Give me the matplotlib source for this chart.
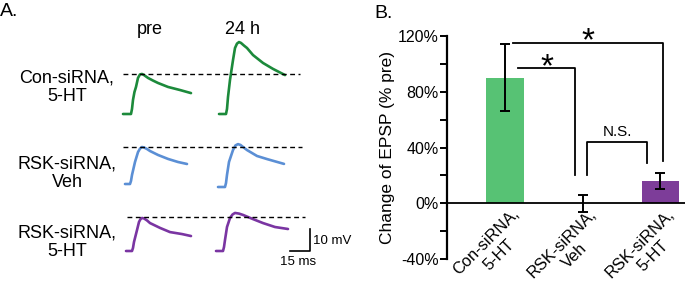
import matplotlib
matplotlib.use("Agg")
import math
import matplotlib.pyplot as plt
from matplotlib.transforms import blended_transform_factory

plt.rcParams['font.family'] = ['Liberation Sans', 'DejaVu Sans']

# ---- panel B data ----
groups = ['Con-siRNA,\n5-HT', 'RSK-siRNA,\nVeh', 'RSK-siRNA,\n5-HT']
change = [90, 0, 16]          # % change of EPSP
err = [24, 6, 6]
bar_colors = ['#57c274', '#57c274', '#7d3d99']
yticks = [-40, 0, 40, 80, 120]
yticklabels = ['-40%', '0%', '40%', '80%', '120%']

# ---- panel A traces (ms, mV above baseline) ----
green_pre_t = [0, 6, 6.75, 7.5, 8.6, 9.75, 11.25, 12.75, 14.25, 15.75, 18.75, 22.5, 26.25, 33.75, 42.75, 51]
green_pre_v = [0, 0, 2.3, 6.4, 10, 12.3, 16.4, 18, 18.2, 17.7, 16.4, 15.2, 14.1, 12.3, 10.9, 9.5]
green_24_t = [0, 5.25, 6, 6.75, 8.25, 10.5, 12, 13.5, 15, 16.5, 18.75, 21, 25.5, 33, 40.5, 49.5]
green_24_v = [0, 0, 2.3, 7.7, 15.5, 24.5, 30, 32, 32.7, 32.3, 31.1, 30, 26.8, 23.2, 20.5, 17.7]
blue_pre_t = [0, 3.75, 4.5, 5.25, 7.5, 9.75, 11.25, 12.75, 14.25, 16.5, 18.75, 24.75, 32.25, 39.75, 46.5]
blue_pre_v = [0, 0, 1.4, 4.1, 10, 14.5, 16.1, 16.8, 16.6, 15.9, 15, 13.2, 11.4, 10, 9.1]
blue_24_t = [0, 5.25, 6, 6.75, 8.25, 11.25, 13.1, 15, 16.9, 18.75, 21.75, 29.25, 36.75, 44.25, 49.5]
blue_24_v = [0, 0, 1.8, 5.5, 11.4, 16.8, 18.9, 19.5, 19.1, 18.2, 16.8, 14.1, 12.7, 11.4, 10.5]
purple_pre_t = [0, 4.5, 5.25, 6, 8.25, 9.75, 10.9, 12, 13.5, 15.75, 18, 25.5, 33, 42, 48.75]
purple_pre_v = [0, 0, 1.4, 4.1, 9.5, 13.2, 14.5, 15, 14.8, 13.9, 12.7, 10.5, 8.6, 7.7, 6.8]
purple_24_t = [0, 5.25, 6, 6.75, 8.25, 10.5, 12.4, 14.25, 17.25, 20.25, 27.75, 35.25, 44.25, 54]
purple_24_v = [0, 0, 1.8, 5, 10.9, 15, 16.6, 17.3, 17, 16.4, 14.5, 12.7, 10.9, 10]

row_labels = ['Con-siRNA,\n5-HT', 'RSK-siRNA,\nVeh', 'RSK-siRNA,\n5-HT']
trace_colors = ['#1c8a3b', '#5b8fd5', '#7a35a2']

fig = plt.figure(figsize=(6.85, 2.85), dpi=100)
renderer = fig.canvas.get_renderer()

# panel A drawn on a full-figure axes in pixel units
axA = fig.add_axes([0, 0, 1, 1])
axA.set_xlim(0, 685)
axA.set_ylim(285, 0)
axA.axis('off')

px_ms = 20 / 15.0   # pixels per ms
px_mv = 22 / 10.0   # pixels per mV

traces = [
    (green_pre_t, green_pre_v, 123, 114, 0), (green_24_t, green_24_v, 219, 114, 0),
    (blue_pre_t, blue_pre_v, 125, 184, 1), (blue_24_t, blue_24_v, 218, 187, 1),
    (purple_pre_t, purple_pre_v, 126, 251, 2), (purple_24_t, purple_24_v, 216, 251, 2),
]
for t, v, x0, y0, row in traces:
    axA.plot([x0 + ti * px_ms for ti in t], [y0 - vi * px_mv for vi in v],
             color=trace_colors[row], lw=1.9, solid_joinstyle='round', solid_capstyle='round')

# dashed reference lines at pre peak
for y, xa, xb in [(74, 123, 300), (147, 123, 302), (217, 127, 305)]:
    axA.plot([xa, xb], [y, y], color='black', lw=1.0, ls=(0, (3.5, 2.5)))

# scale bar
axA.plot([310 - 15 * px_ms, 310, 310], [251, 251, 251 - 10 * px_mv], color='black', lw=1.2)
axA.text(313, 241, '10 mV', fontsize=9.5, va='center', ha='left')
axA.text(298, 262, '15 ms', fontsize=9.5, va='center', ha='center')

axA.text(0, 11, 'A.', fontsize=14, va='center', ha='left')
axA.text(150, 30, 'pre', fontsize=13, va='center', ha='center')
axA.text(243, 30, '24 h', fontsize=13, va='center', ha='center')
for lab, yc in zip(row_labels, [87, 173, 242]):
    axA.text(67, yc, lab, fontsize=13, va='center', ha='center', multialignment='center',
             linespacing=1.15)
axA.text(374, 13, 'B.', fontsize=14, va='center', ha='left')

# ---- panel B ----
axB = fig.add_axes([447 / 685, 26 / 285, 238 / 685, 223 / 285])
axB.patch.set_alpha(0)
x = list(range(len(groups)))
axB.bar(x, change, width=0.48, color=bar_colors, zorder=2)
axB.errorbar(x, change, yerr=err, fmt='none', ecolor='black', elinewidth=1.4,
             capsize=3.5, capthick=1.4, zorder=3)
axB.axhline(0, color='black', lw=1.3, zorder=4)
axB.set_xlim(-0.748, 2.32)
axB.set_ylim(-40, 120)
axB.set_yticks(yticks)
axB.set_yticklabels(yticklabels, fontsize=11.5)
axB.set_yticks([-20, 20, 60, 100], minor=True)
axB.tick_params(axis='y', which='both', direction='out', length=5, width=1.4, pad=1)
axB.set_xticks([])
for s in ['top', 'right', 'bottom']:
    axB.spines[s].set_visible(False)
axB.spines['left'].set_linewidth(1.6)
axB.set_ylabel('Change of EPSP (% pre)', fontsize=12.5, labelpad=2)

# rotated group labels, one text per line (second line centred under the first)
tr = blended_transform_factory(axB.transData, fig.transFigure)
fs = 11.8
ang = math.radians(45)
for xi, lab in zip(x, groups):
    line1, line2 = lab.split('\n')
    anchor = (xi + 0.08, (285 - 206) / 285)
    axB.text(*anchor, line1, transform=tr, fontsize=fs, rotation=45,
             ha='right', va='top', rotation_mode='anchor', clip_on=False)
    tmp = fig.text(0, 0, line1, fontsize=fs)
    w1 = tmp.get_window_extent(renderer).width * 72 / fig.dpi
    tmp.remove()
    dx, dy = -w1 / 2, -fs * 1.12
    off = (dx * math.cos(ang) - dy * math.sin(ang), dx * math.sin(ang) + dy * math.cos(ang))
    axB.annotate(line2, xy=anchor, xycoords=tr, xytext=off, textcoords='offset points',
                 fontsize=fs, rotation=45, ha='center', va='top',
                 rotation_mode='anchor', annotation_clip=False)

# significance brackets
lk = dict(color='black', lw=1.3, clip_on=False, zorder=5)
axB.plot([0.1, 2.03, 2.03], [115, 115, 30], **lk)
axB.plot([0.17, 0.9, 0.9], [97, 97, 20], **lk)
axB.plot([1.06, 1.06, 1.83, 1.83], [20, 44, 44, 29], **lk)
axB.text(1.07, 116, '*', fontsize=24, ha='center', va='center', clip_on=False)
axB.text(0.54, 97, '*', fontsize=24, ha='center', va='center', clip_on=False)
axB.text(1.45, 51, 'N.S.', fontsize=11, ha='center', va='center')

fig.savefig('out.png', dpi=100)
